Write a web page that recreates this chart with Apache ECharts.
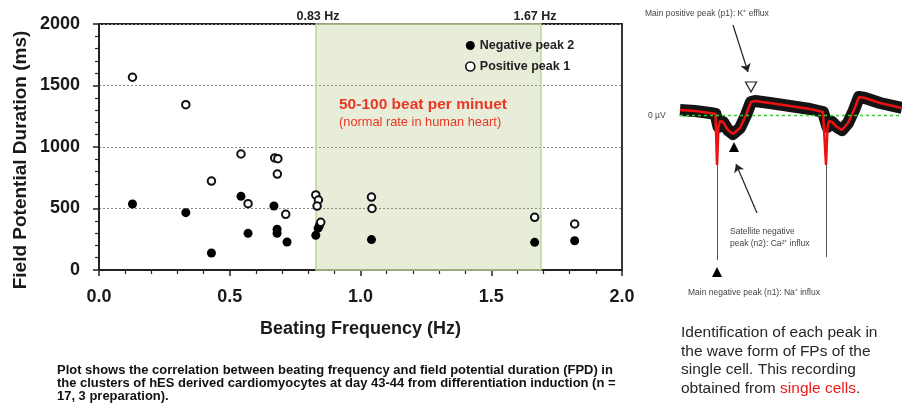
<!DOCTYPE html>
<html><head><meta charset="utf-8">
<script src="https://cdn.jsdelivr.net/npm/echarts@6/dist/echarts.min.js"></script>
<style>html,body{margin:0;padding:0;background:#fff}#c{width:902px;height:415px}</style>
</head><body><div id="c"></div>
<script>
// ---- scatter data (Beating frequency Hz, FPD ms) ----
const negFreq = [0.128,0.332,0.430,0.543,0.570,0.669,0.681,0.681,0.719,0.829,0.838,0.843,1.042,1.666,1.819];
const negFpd  = [537,466,138,599,298,520,331,299,228,282,340,362,247,225,238];
const posFreq = [0.128,0.332,0.430,0.543,0.570,0.672,0.684,0.682,0.714,0.829,0.839,0.834,0.848,1.042,1.044,1.666,1.819];
const posFpd  = [1567,1344,723,943,539,911,905,780,453,610,569,520,388,593,500,428,374];
const seriesNames = ['Negative peak 2','Positive peak 1'];
const normalBand = [0.83, 1.69];
const bandLabels = ['0.83 Hz','1.67 Hz'];
const xTickLabels = ['0.0','0.5','1.0','1.5','2.0'];
const yTickLabels = ['0','500','1000','1500','2000'];
// ---- FP trace (time, µV arbitrary units) ----
const traceT = [0,15,30,35.5,37,38.5,40,43,48,53,60,66,71,75,90,110,130,143,144.5,146,147.5,149,152,157,162,168,174,179,185,200,222];
const traceV = [5,4,2,1,-50,-12,-6,-7,-15,-19,-13,0,13,14,12,9,6,3,2,-50,-12,-6,-7,-12,-15,-8,5,18,17,12,7];

const F = "'Liberation Sans', Arial, Helvetica, sans-serif";
const chart = echarts.init(document.getElementById('c'));
const negData = negFreq.map((x,i)=>[x,negFpd[i]]);
const posData = posFreq.map((x,i)=>[x,posFpd[i]]);
const traceData = traceT.map((t,i)=>[t,traceV[i]]);
const noiseData = traceData.filter(p=>p[1]>-30);

const capStyle = {fontFamily:F, fontWeight:'bold', fontSize:12, fill:'#111', align:'left', verticalAlign:'middle'};
const noteStyle = {fontFamily:F, fontSize:8.5, fill:'#444', align:'left', verticalAlign:'middle'};
const paraStyle = {fontFamily:F, fontSize:15.5, fill:'#262626', align:'left', verticalAlign:'middle'};

const option = {
  animation:false,
  backgroundColor:'#fff',
  grid:[
    {left:99, top:24, width:523, height:246, show:true, borderColor:'#222', borderWidth:1.8, backgroundColor:'transparent'},
    {left:680, top:15, width:222, height:260}
  ],
  xAxis:[
    {gridIndex:0, type:'value', min:0, max:2, interval:0.5,
     axisLine:{onZero:false, lineStyle:{color:'#222', width:2}},
     axisTick:{length:6, lineStyle:{color:'#222', width:1.5}},
     minorTick:{show:true, splitNumber:5, length:4, lineStyle:{color:'#222', width:1.2}},
     splitLine:{show:false},
     axisLabel:{formatter:(v)=>xTickLabels[Math.round(v/0.5)], fontFamily:F, fontWeight:'bold', fontSize:18, color:'#1a1a1a', margin:18},
     name:'Beating Frequency (Hz)', nameLocation:'middle', nameGap:50,
     nameTextStyle:{fontFamily:F, fontWeight:'bold', fontSize:18, color:'#1a1a1a'}
    },
    {gridIndex:1, type:'value', min:0, max:222, show:false}
  ],
  yAxis:[
    {gridIndex:0, type:'value', min:0, max:2000, interval:500,
     axisLine:{onZero:false, lineStyle:{color:'#222', width:2}},
     axisTick:{length:6, lineStyle:{color:'#222', width:1.5}},
     minorTick:{show:true, splitNumber:5, length:4, lineStyle:{color:'#222', width:1.2}},
     splitLine:{show:true, lineStyle:{color:'#888', type:[2,2], width:1}},
     axisLabel:{formatter:(v)=>yTickLabels[Math.round(v/500)], fontFamily:F, fontWeight:'bold', fontSize:18, color:'#1a1a1a', margin:19}
    },
    {gridIndex:1, type:'value', min:-160, max:100, show:false}
  ],
  legend:{
    orient:'vertical', left:460, top:34, itemWidth:9, itemHeight:9, itemGap:8,
    textStyle:{fontFamily:F, fontWeight:'bold', fontSize:12.5, color:'#222'},
    data:[
      {name:seriesNames[0], icon:'circle', itemStyle:{color:'#000', borderWidth:0}},
      {name:seriesNames[1], icon:'circle', itemStyle:{color:'#fff', borderColor:'#111', borderWidth:1.6}}
    ]
  },
  series:[
    {type:'scatter', xAxisIndex:0, yAxisIndex:0, data:[], silent:true, clip:false, z:1,
     markArea:{silent:true, itemStyle:{color:'rgba(160,180,100,0.24)', borderColor:'#bcd69a', borderWidth:1.5},
       data:[[{xAxis:normalBand[0], yAxis:0},{xAxis:normalBand[1], yAxis:2130}]]}
    },
    {name:seriesNames[0], type:'scatter', xAxisIndex:0, yAxisIndex:0, data:negData, symbol:'circle', symbolSize:9,
     itemStyle:{color:'#000', opacity:1}, z:3},
    {name:seriesNames[1], type:'scatter', xAxisIndex:0, yAxisIndex:0, data:posData, symbol:'circle', symbolSize:7.5,
     itemStyle:{color:'#fff', borderColor:'#111', borderWidth:2, opacity:1}, z:4},
    // trace: noise band
    {type:'line', xAxisIndex:1, yAxisIndex:1, data:noiseData, symbol:'none', silent:true, clip:false,
     lineStyle:{color:'#141414', width:12, cap:'butt', join:'round'}, z:2,
     markLine:{silent:true, symbol:'none', label:{show:false},
       lineStyle:{color:'#c8c8c8', width:1, type:[2,2]},
       data:[[{coord:[traceT[4],55]},{coord:[traceT[4],-190]}]]}
    },
    // zero line
    {type:'line', xAxisIndex:1, yAxisIndex:1, data:[], silent:true, clip:false, z:3,
     color:'#33cc33', itemStyle:{color:'#33cc33'},
     markLine:{silent:true, symbol:'none', label:{show:false},
       lineStyle:{color:'#33cc33', width:1.3, type:[3,3], opacity:1},
       data:[{yAxis:0, lineStyle:{color:'#33cc33'}}]}
    },
    // trace: mean (red)
    {type:'line', xAxisIndex:1, yAxisIndex:1, data:traceData, symbol:'none', silent:true, clip:false,
     lineStyle:{color:'#ee1111', width:2.5}, z:4,
     markLine:{silent:true, symbol:'none', label:{show:false},
       lineStyle:{color:'#555', width:1, type:'solid'},
       data:[
         [{coord:[traceT[4],-50]},{coord:[traceT[4],-145]}],
         [{coord:[traceT[19],-50]},{coord:[traceT[19],-142]}]
       ]},
     markPoint:{silent:true, label:{show:false},
       data:[
         {coord:[54,-32], symbol:'triangle', symbolSize:[10,10], itemStyle:{color:'#000'}},
         {coord:[71,28], symbol:'triangle', symbolRotate:180, symbolSize:[11,10], itemStyle:{color:'#fff', borderColor:'#222', borderWidth:1.2}},
         {coord:[37,-157], symbol:'triangle', symbolSize:[10,10], itemStyle:{color:'#000'}}
       ]}
    },
    // annotation arrows
    {type:'line', xAxisIndex:1, yAxisIndex:1, data:[], silent:true, clip:false, z:5,
     markLine:{silent:true, symbol:['none','arrow'], symbolSize:8, label:{show:false},
       lineStyle:{color:'#222', width:1.2, type:'solid'},
       data:[
         [{coord:[53,90]},{coord:[68,43]}],
         [{coord:[77,-98]},{coord:[56,-49]}]
       ]}
    }
  ],
  graphic:[
    {type:'text', x:21, y:160, rotation:Math.PI/2, style:{text:'Field Potential Duration (ms)', fontFamily:F, fontWeight:'bold', fontSize:19, fill:'#1a1a1a', align:'center', verticalAlign:'middle'}},
    {type:'text', x:318, y:17, style:{text:bandLabels[0], fontFamily:F, fontWeight:'bold', fontSize:12.5, fill:'#222', align:'center', verticalAlign:'middle'}},
    {type:'text', x:535, y:17, style:{text:bandLabels[1], fontFamily:F, fontWeight:'bold', fontSize:12.5, fill:'#222', align:'center', verticalAlign:'middle'}},
    {type:'text', x:339, y:105, style:{text:'50-100 beat per minuet', fontFamily:F, fontWeight:'bold', fontSize:15.5, fill:'#ff1010', align:'left', verticalAlign:'middle'}},
    {type:'text', x:339, y:122, style:{text:'(normal rate in human heart)', fontFamily:F, fontSize:12.8, fill:'#ff1010', align:'left', verticalAlign:'middle'}},
    {type:'text', x:57, y:371, scaleX:1.08, style:Object.assign({text:'Plot shows the correlation between beating frequency and field potential duration (FPD) in'}, capStyle)},
    {type:'text', x:57, y:384, scaleX:1.08, style:Object.assign({text:'the clusters of hES derived cardiomyocytes at day 43-44 from differentiation induction (n ='}, capStyle)},
    {type:'text', x:57, y:397, scaleX:1.08, style:Object.assign({text:'17, 3 preparation).'}, capStyle)},
    {type:'text', x:645, y:14, style:Object.assign({text:'Main positive peak (p1): K\u207A efflux'}, noteStyle)},
    {type:'text', x:648, y:116, style:Object.assign({text:'0 \u00B5V'}, noteStyle)},
    {type:'text', x:730, y:231.5, style:Object.assign({text:'Satellite negative'}, noteStyle)},
    {type:'text', x:730, y:243.5, style:Object.assign({text:'peak (n2): Ca\u00B2\u207A influx'}, noteStyle)},
    {type:'text', x:688, y:292.5, style:Object.assign({text:'Main negative peak (n1): Na\u207A influx'}, noteStyle)},
    {type:'text', x:681, y:333, style:Object.assign({text:'Identification of each peak in'}, paraStyle)},
    {type:'text', x:681, y:351.5, style:Object.assign({text:'the wave form of FPs of the'}, paraStyle)},
    {type:'text', x:681, y:370, style:Object.assign({text:'single cell. This recording'}, paraStyle)},
    {type:'text', x:681, y:388.5, style:Object.assign({text:'{a|obtained from }{r|single cells}{a|.}',
      rich:{a:{fontFamily:F, fontSize:15.5, fill:'#262626', color:'#262626'}, r:{fontFamily:F, fontSize:15.5, fill:'#f01818', color:'#f01818'}}}, paraStyle)}
  ]
};
chart.setOption(option);
</script>
</body></html>
